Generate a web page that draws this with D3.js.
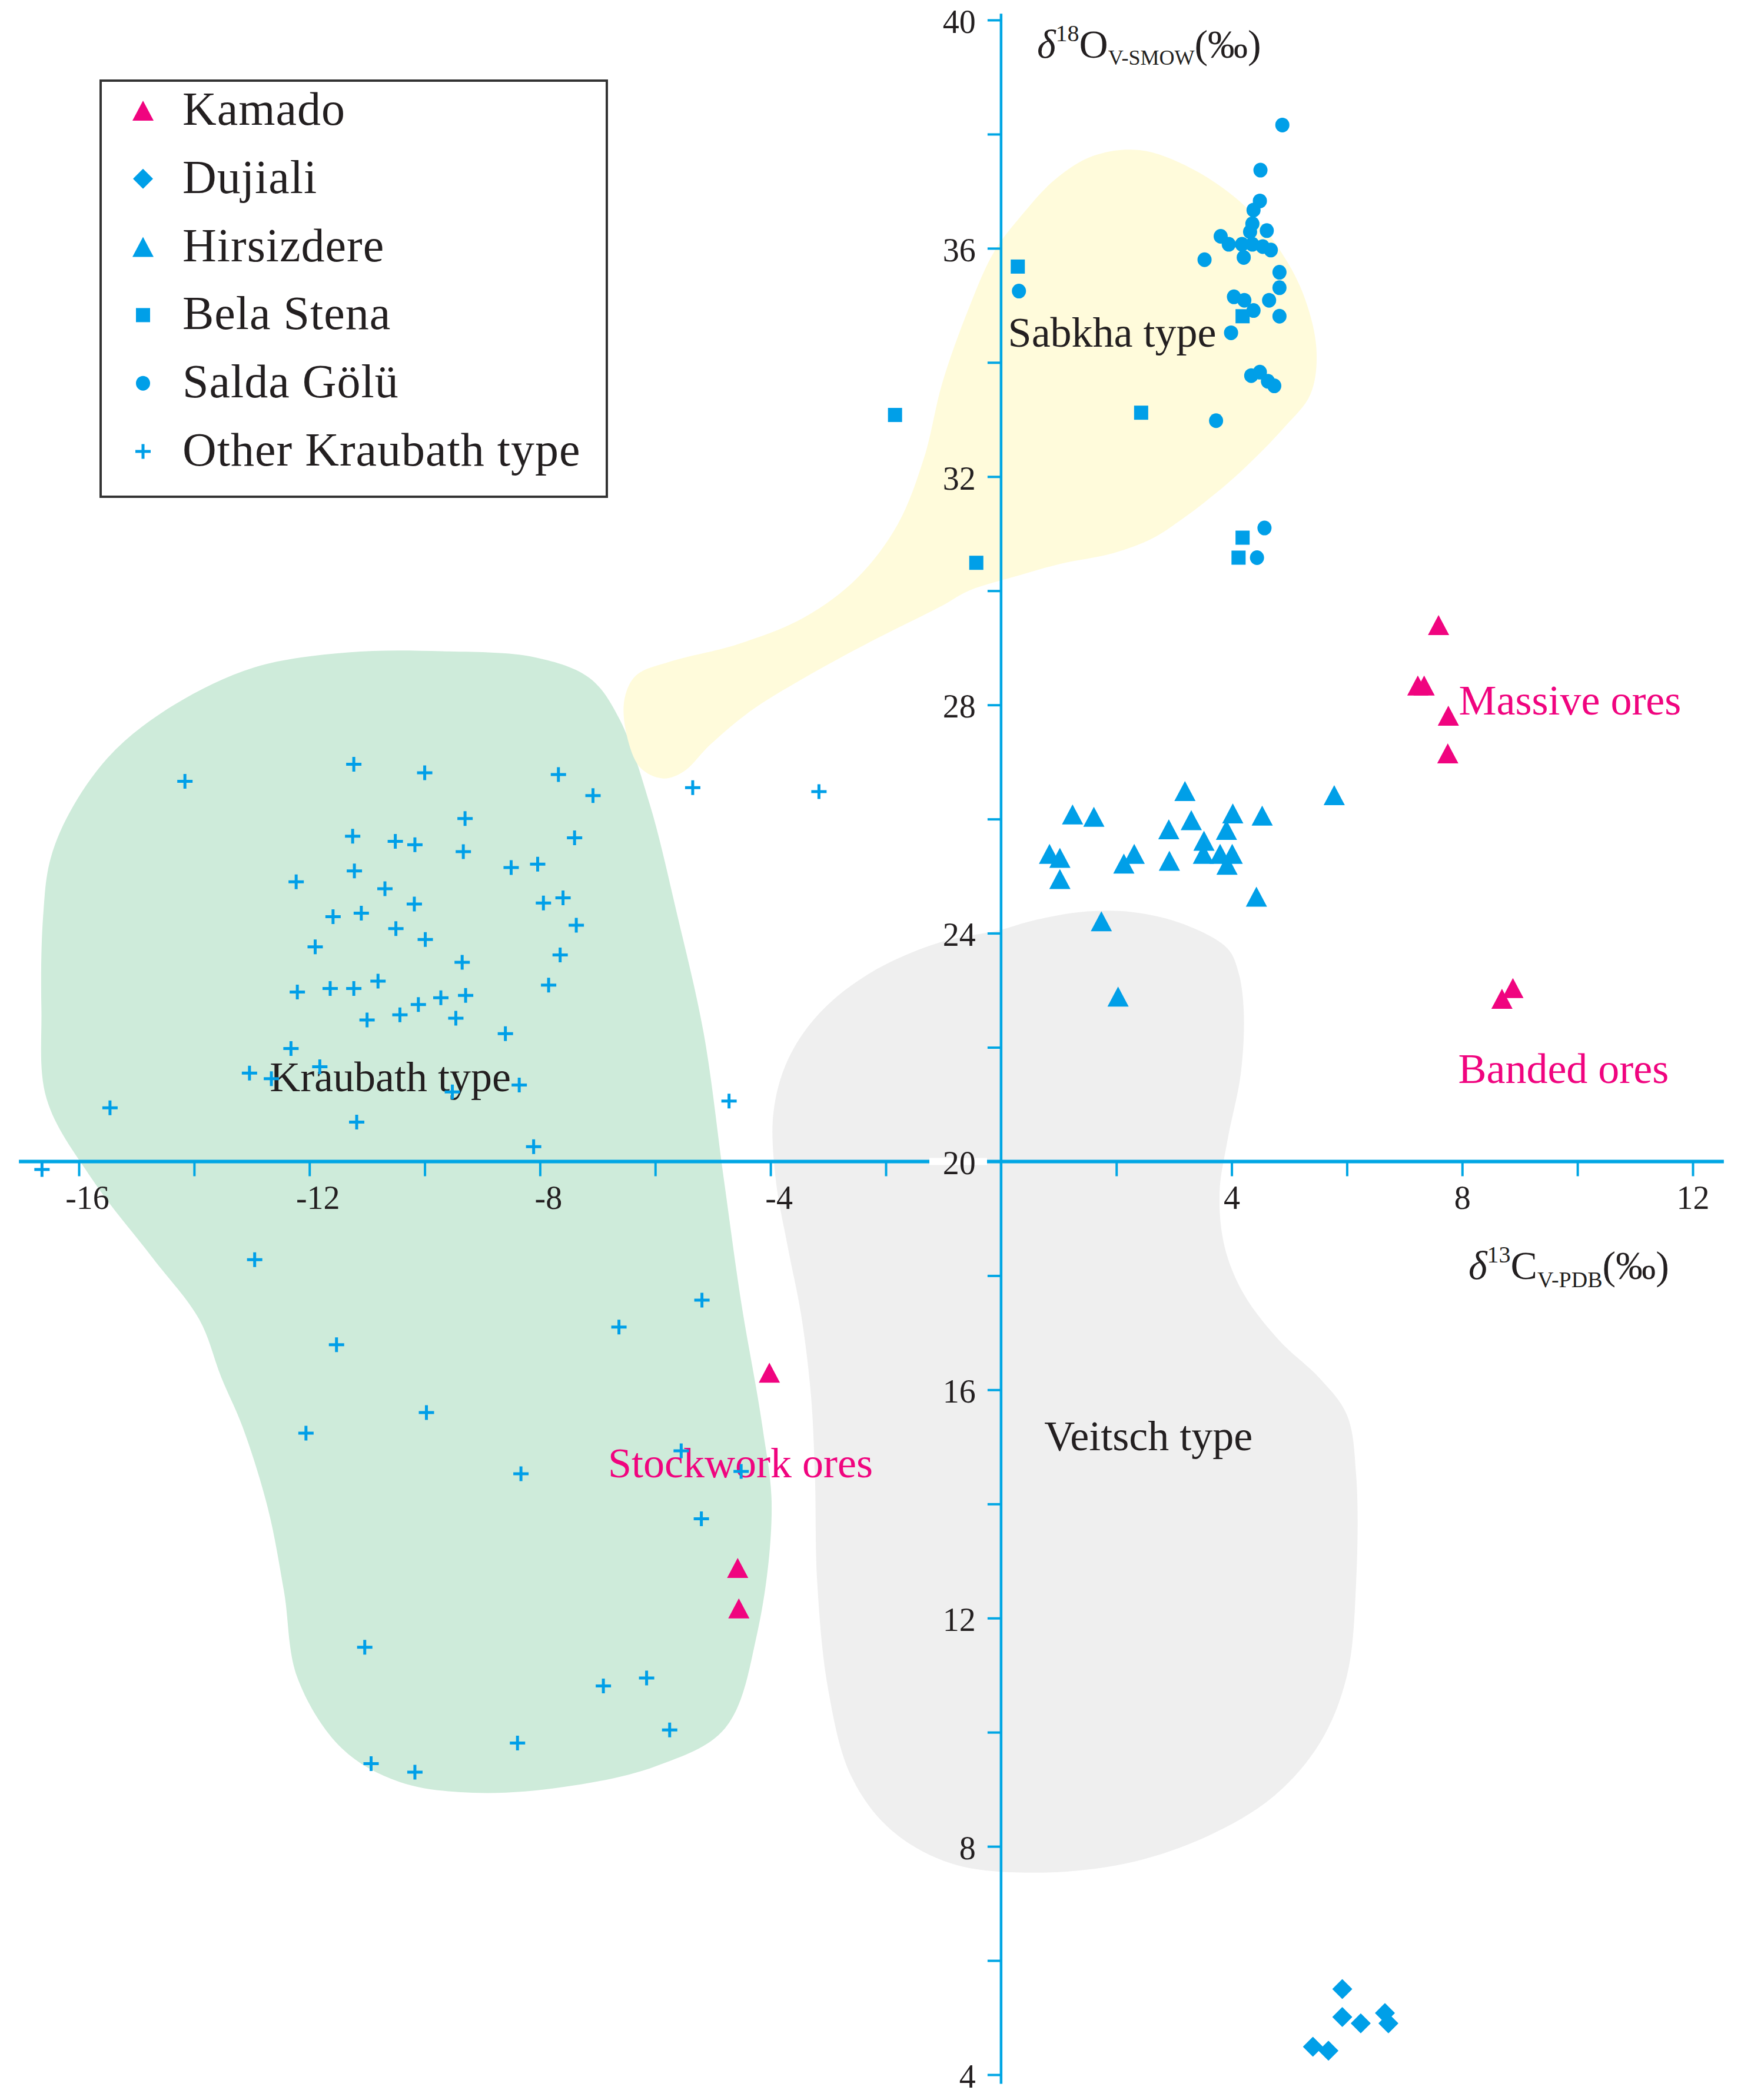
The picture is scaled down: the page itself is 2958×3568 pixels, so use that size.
<!DOCTYPE html>
<html lang="en">
<head>
<meta charset="utf-8">
<title>δ13C – δ18O</title>
<script src="https://cdn.jsdelivr.net/npm/d3@7"></script>
<style>
  html, body { margin: 0; padding: 0; background: #ffffff; }
  svg { display: block; }
  text { font-family: "Liberation Serif", "Times New Roman", serif; fill: #231f20; }
</style>
</head>
<body>
<div id="chart"></div>
<script>
// Valores: [δ13C, δ18O]
const kamado = [
  [7.59, 29.40], [7.23, 28.34], [7.34, 28.34], [7.76, 27.81], [7.75, 27.15],
  [8.69, 22.85], [8.88, 23.04],
  [-4.02, 16.30], [-4.57, 12.88], [-4.55, 12.17]
];

const dujiali = [
  [5.92, 5.50], [5.92, 5.01], [6.24, 4.90], [6.66, 5.08], [6.72, 4.90],
  [5.41, 4.49], [5.68, 4.42]
];

const hirsizdere = [
  [3.19, 26.49], [5.78, 26.42], [1.24, 26.08], [1.61, 26.04], [2.91, 25.82],
  [3.30, 25.98], [4.02, 26.10], [4.53, 26.06], [3.91, 25.81], [0.84, 25.39],
  [1.02, 25.32], [2.31, 25.39], [2.13, 25.22], [2.92, 25.27], [3.52, 25.62],
  [3.51, 25.39], [3.80, 25.39], [4.01, 25.39], [3.92, 25.20], [1.02, 24.95],
  [4.43, 24.64], [1.74, 24.21], [2.03, 22.89]
];

const belaStena = [
  [-1.84, 33.08], [-0.43, 30.49], [0.29, 35.68], [2.43, 33.12],
  [4.19, 34.81], [4.19, 30.93], [4.12, 30.58]
];

const saldaGolu = [
  [4.88, 38.16], [4.50, 37.37], [4.49, 36.83], [4.38, 36.67], [4.36, 36.43],
  [4.32, 36.29], [4.61, 36.31], [3.81, 36.21], [3.95, 36.07], [4.18, 36.07],
  [4.36, 36.07], [4.54, 36.03], [4.68, 35.97], [4.21, 35.84], [3.53, 35.80],
  [4.83, 35.58], [4.83, 35.31], [4.04, 35.15], [4.22, 35.09], [4.65, 35.09],
  [4.38, 34.91], [4.83, 34.81], [3.99, 34.52], [4.34, 33.77], [4.49, 33.83],
  [4.63, 33.67], [4.74, 33.59], [3.73, 32.98], [0.31, 35.25], [4.57, 31.10],
  [4.44, 30.58]
];

const otherKraubath = [
  [-11.23, 26.96], [-10.00, 26.81], [-7.68, 26.78], [-14.16, 26.66], [-7.08, 26.41],
  [-9.30, 26.01], [-11.25, 25.70], [-10.51, 25.61], [-10.17, 25.55], [-9.33, 25.43],
  [-7.40, 25.67], [-8.50, 25.15], [-8.04, 25.21], [-12.23, 24.90], [-11.22, 25.09],
  [-10.69, 24.78], [-10.18, 24.51], [-7.94, 24.53], [-7.60, 24.62], [-11.59, 24.29],
  [-11.10, 24.35], [-10.50, 24.08], [-9.99, 23.89], [-11.90, 23.76], [-7.37, 24.14],
  [-9.35, 23.49], [-7.65, 23.62], [-7.85, 23.09], [-12.21, 22.97], [-11.64, 23.03],
  [-11.23, 23.03], [-10.81, 23.16], [-9.72, 22.87], [-9.29, 22.91], [-10.11, 22.75],
  [-10.43, 22.57], [-11.00, 22.48], [-9.46, 22.51], [-8.60, 22.24], [-12.32, 21.98],
  [-11.82, 21.66], [-13.04, 21.55], [-12.66, 21.45], [-9.52, 21.22], [-8.36, 21.34],
  [-15.46, 20.94], [-11.18, 20.69], [-8.11, 20.26], [-16.64, 19.86],
  [-5.35, 26.55], [-3.16, 26.48], [-4.72, 21.06],
  [-12.95, 18.28], [-5.19, 17.57], [-6.63, 17.10], [-11.53, 16.79], [-9.97, 15.60],
  [-12.06, 15.24], [-5.55, 14.93], [-8.33, 14.53], [-4.51, 14.57], [-5.20, 13.74],
  [-11.04, 11.49], [-6.90, 10.81], [-6.15, 10.95], [-5.75, 10.04], [-8.39, 9.81],
  [-10.93, 9.45], [-10.17, 9.30]
];

// Contornos de los campos (unidades de datos)
const kraubathZone = [
  [-12.95, 28.66], [-11.33, 28.92], [-9.70, 28.94], [-8.07, 28.83],
  [-7.14, 28.47], [-6.63, 27.77], [-6.09, 26.24], [-5.63, 24.37], [-5.16, 22.25],
  [-4.81, 19.69], [-4.51, 17.54], [-4.14, 15.35], [-3.98, 13.92], [-4.23, 11.74],
  [-4.79, 10.07], [-5.98, 9.41], [-7.60, 9.04], [-9.16, 8.94], [-10.44, 9.13],
  [-11.44, 9.72], [-12.21, 10.96], [-12.44, 12.46], [-12.72, 13.92], [-13.16, 15.35],
  [-13.53, 16.22], [-13.91, 17.23], [-14.72, 18.31], [-15.77, 19.69], [-16.56, 21.10],
  [-16.65, 22.68], [-16.62, 24.30], [-16.49, 25.31], [-16.09, 26.24], [-15.40, 27.18],
  [-14.35, 28.00]
];

const sabkhaZone = [
  [2.40, 37.72], [3.30, 37.40], [4.23, 36.74], [4.81, 36.01], [5.23, 35.23],
  [5.47, 34.25], [5.37, 33.45], [4.91, 32.86], [4.14, 32.07], [3.53, 31.55],
  [3.09, 31.22], [2.63, 30.92], [1.95, 30.66], [1.02, 30.47], [0.35, 30.28],
  [-0.56, 30.00], [-1.02, 29.74], [-2.26, 29.11], [-3.42, 28.47], [-4.35, 27.89],
  [-5.05, 27.30], [-5.51, 26.83], [-5.86, 26.71], [-6.26, 26.90], [-6.51, 27.54],
  [-6.53, 28.12], [-6.33, 28.52], [-5.74, 28.76], [-4.58, 29.06], [-3.42, 29.53],
  [-2.49, 30.23], [-1.79, 31.17], [-1.33, 32.35], [-1.02, 33.64], [-0.56, 34.95],
  [-0.12, 35.94], [0.35, 36.57], [0.93, 37.20], [1.60, 37.62]
];

const veitschZone = [
  [0.00, 24.06], [0.47, 24.20], [1.37, 24.37], [2.28, 24.37], [3.19, 24.15],
  [3.93, 23.73], [4.12, 23.31], [4.21, 22.63], [4.16, 21.55], [3.93, 20.38],
  [3.79, 19.44], [3.88, 18.50], [4.21, 17.68], [4.84, 16.85], [5.53, 16.20],
  [6.00, 15.56], [6.16, 14.51], [6.16, 12.63], [6.00, 10.99], [5.53, 9.81],
  [4.72, 8.87], [3.56, 8.17], [2.16, 7.70], [0.53, 7.54], [-0.86, 7.70],
  [-1.91, 8.29], [-2.60, 9.23], [-3.00, 10.75], [-3.19, 12.63], [-3.23, 14.51],
  [-3.30, 15.92], [-3.47, 17.32], [-3.70, 18.50], [-3.91, 19.69], [-3.95, 20.85],
  [-3.70, 21.78], [-3.14, 22.61], [-2.26, 23.31], [-1.09, 23.83]
];

// Marcas y etiquetas de los ejes
const xTicks = [-16, -14, -12, -10, -8, -6, -4, -2, 2, 4, 6, 8, 10, 12];
const xTickLabels = [-16, -12, -8, -4, 4, 8, 12];
const yTicks = [4, 6, 8, 10, 12, 14, 16, 18, 20, 22, 24, 26, 28, 30, 32, 34, 36, 38, 40];
const yTickLabels = [4, 8, 12, 16, 20, 24, 28, 32, 36, 40];

const legendLabels = ['Kamado', 'Dujiali', 'Hirsizdere', 'Bela Stena', 'Salda Gölü', 'Other Kraubath type'];

const WIDTH = 2958;
const HEIGHT = 3568;
const BLUE = '#009fe8';
const PINK = '#f0047f';
const AXIS_COLOR = '#00a6e4';

function drawMarker(g, shape, color, cx, cy) {
    if (shape === 'triangle') {
        g.append('path').attr('d', 'M0,-17 L18,17 L-18,17 Z')
            .attr('transform', `translate(${cx},${cy})`).attr('fill', color);
    } else if (shape === 'diamond') {
        g.append('path').attr('d', 'M0,-16 L16,0 L0,16 L-16,0 Z')
            .attr('transform', `translate(${cx},${cy})`).attr('fill', color)
            .attr('stroke', color).attr('stroke-width', 1.5).attr('stroke-linejoin', 'round');
    } else if (shape === 'square') {
        g.append('rect').attr('x', cx - 12).attr('y', cy - 12)
            .attr('width', 24).attr('height', 24).attr('fill', color);
    } else if (shape === 'circle') {
        g.append('ellipse').attr('cx', cx).attr('cy', cy)
            .attr('rx', 12).attr('ry', 12.5).attr('fill', color);
    } else if (shape === 'cross') {
        g.append('path').attr('d', 'M-13,0 H13 M0,-12.5 V12.5')
            .attr('transform', `translate(${cx},${cy})`)
            .attr('stroke', color).attr('stroke-width', 5).attr('fill', 'none');
    }
}

function renderChart() {
    const svg = d3.select('#chart').append('svg')
        .attr('width', WIDTH)
        .attr('height', HEIGHT);

    svg.append('rect').attr('width', WIDTH).attr('height', HEIGHT).attr('fill', '#ffffff');

    const x = d3.scaleLinear().domain([-16, 12]).range([134, 2876]);
    const y = d3.scaleLinear().domain([4, 40]).range([3525, 34]);

    // Campos de fondo
    const zoneLine = d3.line()
        .x(d => x(d[0]))
        .y(d => y(d[1]))
        .curve(d3.curveCatmullRomClosed.alpha(0.5));

    const zones = [
        [kraubathZone, '#ceebda'],
        [sabkhaZone, '#fffbdb'],
        [veitschZone, '#efefef']
    ];
    svg.append('g').selectAll('path')
        .data(zones)
        .enter()
        .append('path')
        .attr('d', d => zoneLine(d[0]))
        .attr('fill', d => d[1]);

    // Eje X
    svg.append('line')
        .attr('x1', x(-17.04)).attr('x2', x(12.54))
        .attr('y1', y(20)).attr('y2', y(20))
        .attr('stroke', AXIS_COLOR).attr('stroke-width', 6);

    const xAxis = svg.append('g')
        .attr('transform', `translate(0,${y(20)})`)
        .call(d3.axisBottom(x)
            .tickValues(xTicks)
            .tickSize(25)
            .tickPadding(16)
            .tickFormat(d => xTickLabels.includes(d) ? String(d) : ''));
    xAxis.select('.domain').remove();
    xAxis.selectAll('.tick line').attr('stroke', AXIS_COLOR).attr('stroke-width', 4);
    xAxis.selectAll('.tick text')
        .attr('font-size', 56)
        .attr('font-family', '"Liberation Serif", serif')
        .attr('fill', '#231f20')
        .attr('dx', d => d < 0 ? 14 : 0);

    // Hueco blanco detrás de la etiqueta "20"
    svg.append('rect')
        .attr('x', 1579).attr('y', y(20) - 6)
        .attr('width', 98).attr('height', 12)
        .attr('fill', '#ffffff');

    // Eje Y
    svg.append('line')
        .attr('x1', x(0)).attr('x2', x(0))
        .attr('y1', y(40.11)).attr('y2', y(3.84))
        .attr('stroke', AXIS_COLOR).attr('stroke-width', 4.5);

    const yAxis = svg.append('g')
        .attr('transform', `translate(${x(0)},0)`)
        .call(d3.axisLeft(y)
            .tickValues(yTicks)
            .tickSize(23)
            .tickPadding(20)
            .tickFormat(d => yTickLabels.includes(d) ? String(d) : ''));
    yAxis.select('.domain').remove();
    yAxis.selectAll('.tick line').attr('stroke', AXIS_COLOR).attr('stroke-width', 4);
    yAxis.selectAll('.tick text')
        .attr('font-size', 56)
        .attr('font-family', '"Liberation Serif", serif')
        .attr('fill', '#231f20')
        .attr('dy', '0.38em');

    // Títulos de los ejes
    const yTitle = svg.append('text').attr('x', 1762).attr('y', 98).attr('font-size', 68);
    yTitle.append('tspan').attr('font-style', 'italic').text('δ');
    yTitle.append('tspan').attr('font-size', 40).attr('dy', -28).text('18');
    yTitle.append('tspan').attr('dy', 28).text('O');
    yTitle.append('tspan').attr('font-size', 36).attr('dy', 12).text('V-SMOW');
    yTitle.append('tspan').attr('dy', -12).text('(‰)');

    const xTitle = svg.append('text').attr('x', 2495).attr('y', 2173).attr('font-size', 68);
    xTitle.append('tspan').attr('font-style', 'italic').text('δ');
    xTitle.append('tspan').attr('font-size', 40).attr('dy', -28).text('13');
    xTitle.append('tspan').attr('dy', 28).text('C');
    xTitle.append('tspan').attr('font-size', 38).attr('dy', 14).text('V-PDB');
    xTitle.append('tspan').attr('dy', -14).text('(‰)');

    // Rótulos de los campos
    const notes = [
        ['Sabkha type', 0.12, 34.28, '#231f20'],
        ['Kraubath type', -12.69, 21.23, '#231f20'],
        ['Veitsch type', 0.75, 14.94, '#231f20'],
        ['Massive ores', 7.94, 27.83, PINK],
        ['Banded ores', 7.93, 21.38, PINK],
        ['Stockwork ores', -6.82, 14.47, PINK]
    ];
    svg.append('g').selectAll('text')
        .data(notes)
        .enter()
        .append('text')
        .attr('x', d => x(d[1]))
        .attr('y', d => y(d[2]))
        .attr('font-size', 72)
        .style('fill', d => d[3])
        .text(d => d[0]);

    // Puntos
    const series = [
        [otherKraubath, 'cross', BLUE],
        [dujiali, 'diamond', BLUE],
        [hirsizdere, 'triangle', BLUE],
        [saldaGolu, 'circle', BLUE],
        [belaStena, 'square', BLUE],
        [kamado, 'triangle', PINK]
    ];
    const marks = svg.append('g');
    series.forEach(([data, shape, color]) => {
        data.forEach(d => drawMarker(marks, shape, color, x(d[0]), y(d[1])));
    });

    // Leyenda
    const legend = svg.append('g');
    legend.append('rect')
        .attr('x', 171).attr('y', 137)
        .attr('width', 860).attr('height', 707)
        .attr('fill', '#ffffff')
        .attr('stroke', '#333333')
        .attr('stroke-width', 4);

    const legendShapes = [['triangle', PINK], ['diamond', BLUE], ['triangle', BLUE],
                          ['square', BLUE], ['circle', BLUE], ['cross', BLUE]];
    legendLabels.forEach((label, i) => {
        const baseline = 212 + i * 115.8;
        drawMarker(legend, legendShapes[i][0], legendShapes[i][1], 243, baseline - 24);
        legend.append('text')
            .attr('x', 310).attr('y', baseline)
            .attr('font-size', 80)
            .attr('letter-spacing', 1)
            .text(label);
    });
}

renderChart();
</script>
</body>
</html>
